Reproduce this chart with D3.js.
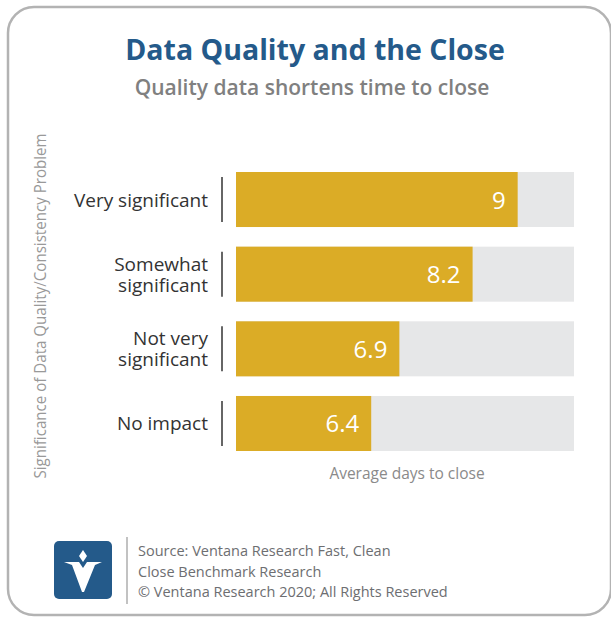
<!DOCTYPE html>
<html>
<head>
<meta charset="utf-8">
<script src="https://cdn.jsdelivr.net/npm/d3@7"></script>
<style>
  body { margin: 0; background: #fff; }
  svg { display: block; font-family: "Open Sans", sans-serif; }
</style>
</head>
<body>
<div class="canva"></div>
<script>
// data
const categories = [["Very significant"], ["Somewhat", "significant"], ["Not very", "significant"], ["No impact"]];
const values = [9, 8.2, 6.9, 6.4];
const valueLabels = ["9", "8.2", "6.9", "6.4"];
const axisMin = 4, axisMax = 10;

const width = 611, height = 618;

const svg = d3.select(".canva").append("svg")
    .attr("width", width)
    .attr("height", height);

// frame
svg.append("rect")
    .attr("x", 8).attr("y", 7)
    .attr("width", 603).attr("height", 608)
    .attr("rx", 26)
    .attr("fill", "#fff")
    .attr("stroke", "#b3b3b3")
    .attr("stroke-width", 2.5);

// titles
svg.append("text")
    .attr("x", 315).attr("y", 60)
    .attr("text-anchor", "middle")
    .style("font-size", "28.5px").style("font-weight", 700)
    .attr("fill", "#245a8a")
    .text("Data Quality and the Close");

svg.append("text")
    .attr("x", 312).attr("y", 95)
    .attr("text-anchor", "middle")
    .style("font-size", "21px").style("font-weight", 600)
    .attr("fill", "#808080")
    .text("Quality data shortens time to close");

// scales
const x = d3.scaleLinear().domain([axisMin, axisMax]).range([236, 574]);
const y = d3.scaleBand().domain(d3.range(values.length)).range([172, 451]).paddingInner(0.263).paddingOuter(0);

const rows = svg.append("g").selectAll("g")
    .data(values)
    .enter().append("g");

// background track
rows.append("rect")
    .attr("x", x(axisMin))
    .attr("y", (d, i) => y(i))
    .attr("width", x(axisMax) - x(axisMin))
    .attr("height", y.bandwidth())
    .attr("fill", "#e6e7e8");

rows.append("rect")
    .attr("x", x(axisMin))
    .attr("y", (d, i) => y(i))
    .attr("width", d => x(d) - x(axisMin))
    .attr("height", y.bandwidth())
    .attr("fill", "#dbac26");

rows.append("text")
    .attr("x", d => x(d) - 12)
    .attr("y", (d, i) => y(i) + y.bandwidth() / 2 + 9)
    .attr("text-anchor", "end")
    .attr("fill", "#fff")
    .style("font-size", "24px")
    .text((d, i) => valueLabels[i]);

// category tick lines
rows.append("line")
    .attr("x1", 222).attr("x2", 222)
    .attr("y1", (d, i) => y(i) + 5)
    .attr("y2", (d, i) => y(i) + y.bandwidth() - 5)
    .attr("stroke", "#333")
    .attr("stroke-width", 1.5);

// category labels
rows.append("text")
    .attr("text-anchor", "end")
    .attr("fill", "#333")
    .style("font-size", "19px")
    .each(function (d, i) {
        const lines = categories[i];
        const cy = y(i) + y.bandwidth() / 2;
        const start = cy + 7 - (lines.length - 1) * 10.5;
        d3.select(this).selectAll("tspan")
            .data(lines)
            .enter().append("tspan")
            .attr("x", 208)
            .attr("y", (t, j) => start + j * 21)
            .text(t => t);
    });

// axis titles
svg.append("text")
    .attr("x", 407).attr("y", 479)
    .attr("text-anchor", "middle")
    .attr("fill", "#8a8a8a")
    .style("font-size", "15.5px")
    .text("Average days to close");

svg.append("text")
    .attr("transform", "translate(46,306) rotate(-90)")
    .attr("text-anchor", "middle")
    .attr("fill", "#999")
    .style("font-size", "15.5px")
    .attr("textLength", 345)
    .attr("lengthAdjust", "spacingAndGlyphs")
    .text("Significance of Data Quality/Consistency Problem");

// logo
const logo = svg.append("g").attr("transform", "translate(54,541)");
logo.append("rect")
    .attr("width", 58).attr("height", 58).attr("rx", 5)
    .attr("fill", "#245a8a");
logo.append("path")
    .attr("d", "M10,21 L25,21 L29,27 L33,21 L48,21 L41,24 L30,51 L28,51 L18,24 Z")
    .attr("fill", "#fff");
logo.append("path")
    .attr("d", "M29,9 L33,15 L29,21 L25,15 Z")
    .attr("fill", "#fff");

svg.append("line")
    .attr("x1", 127).attr("x2", 127)
    .attr("y1", 537).attr("y2", 604)
    .attr("stroke", "#999").attr("stroke-width", 1.2);

const source = ["Source: Ventana Research Fast, Clean", "Close Benchmark Research", "\u00A9 Ventana Research 2020; All Rights Reserved"];
svg.append("g").selectAll("text")
    .data(source)
    .enter().append("text")
    .attr("x", 138)
    .attr("y", (d, i) => 556 + i * 20.5)
    .attr("fill", "#6d6e71")
    .style("font-size", "14.5px")
    .text(d => d);
</script>
</body>
</html>
